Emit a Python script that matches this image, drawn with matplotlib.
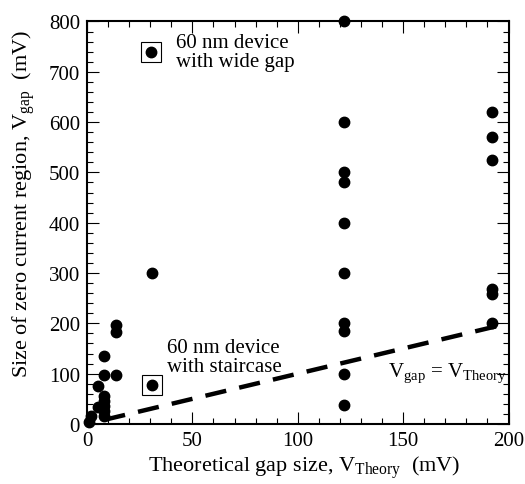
import matplotlib
matplotlib.use("Agg")
import matplotlib.pyplot as plt
from matplotlib.ticker import MultipleLocator

plt.rcParams["font.family"] = ["Liberation Serif", "DejaVu Serif"]
plt.rcParams["mathtext.fontset"] = "custom"
plt.rcParams["mathtext.rm"] = "Liberation Serif"
plt.rcParams["mathtext.it"] = "Liberation Serif:italic"

# measured gaps (mV)
v_theory = [1, 2, 5, 5, 8, 8, 8, 8, 8, 8, 8, 14, 14, 14, 31,
            122, 122, 122, 122, 122, 122, 122, 122, 122, 122,
            192, 192, 192, 192, 192, 192]
v_gap = [4, 15, 33, 76, 15, 25, 35, 45, 55, 97, 136, 97, 182, 197, 300,
         800, 600, 500, 480, 400, 300, 200, 185, 100, 38,
         620, 570, 524, 268, 258, 200]

# highlighted 60 nm devices
box_x = [30.5, 31]
box_y = [740, 78]

ideal_x = [0, 200]
ideal_y = [0, 200]


def main():
    fig = plt.figure(figsize=(5.25, 4.85), dpi=100)
    ax = fig.add_axes([0.1657, 0.1237, 0.8029, 0.83])

    ax.plot(ideal_x, ideal_y, color="black", lw=3.2,
            linestyle=(3.8, (4.8, 3.0)), dash_capstyle="butt", zorder=2)
    ax.plot(v_theory, v_gap, "o", color="black", ms=7.5, zorder=3,
            clip_on=False)
    ax.plot(box_x, box_y, "o", color="black", ms=7.5, zorder=3)
    ax.plot(box_x, box_y, "s", mfc="none", mec="black", mew=0.8, ms=15,
            zorder=3)

    ax.text(42, 740, "60 nm device\nwith wide gap", fontsize=15,
            ha="left", va="center", linespacing=1.0)
    ax.text(38, 133, "60 nm device\nwith staircase", fontsize=15,
            ha="left", va="center", linespacing=1.0)
    ax.text(143, 95, r"V$_{\mathrm{gap}}$ = V$_{\mathrm{Theory}}$",
            fontsize=15, ha="left", va="baseline")

    ax.set_xlim(0, 200)
    ax.set_ylim(0, 800)
    ax.xaxis.set_major_locator(MultipleLocator(50))
    ax.xaxis.set_minor_locator(MultipleLocator(10))
    ax.yaxis.set_major_locator(MultipleLocator(100))
    ax.yaxis.set_minor_locator(MultipleLocator(20))
    ax.tick_params(which="both", direction="in", top=True, right=True,
                   labelsize=15, width=0.8)
    ax.tick_params(which="major", length=8.5, pad=5)
    ax.tick_params(which="minor", length=4.5)
    for s in ax.spines.values():
        s.set_linewidth(1.5)

    ax.set_xlabel(r"Theoretical gap size, V$_{\mathrm{Theory}}$  (mV)",
                  fontsize=16)
    ax.set_ylabel(r"Size of zero current region, V$_{\mathrm{gap}}$  (mV)",
                  fontsize=16)
    ax.xaxis.set_label_coords(0.515, -0.0745)
    ax.yaxis.set_label_coords(-0.118, 0.55)

    fig.savefig("out.png", dpi=100)
    plt.close(fig)


if __name__ == "__main__":
    main()
